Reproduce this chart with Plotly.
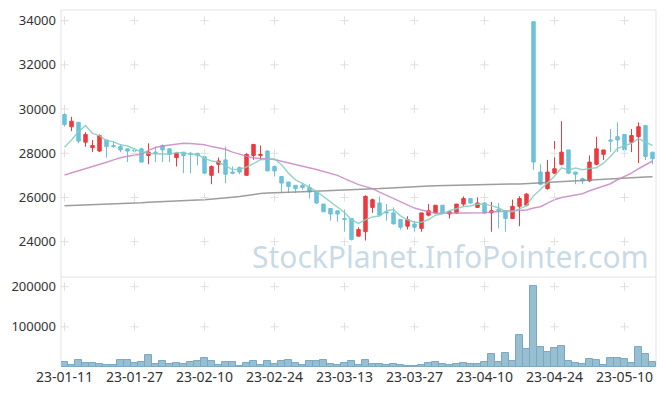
import plotly.graph_objects as go
from plotly.subplots import make_subplots

dates = [
    "23-01-11", "23-01-12", "23-01-13", "23-01-16", "23-01-17", "23-01-18", "23-01-19", "23-01-20",
    "23-01-25", "23-01-26", "23-01-27", "23-01-30", "23-01-31",
    "23-02-01", "23-02-02", "23-02-03", "23-02-06", "23-02-07", "23-02-08", "23-02-09", "23-02-10",
    "23-02-13", "23-02-14", "23-02-15", "23-02-16", "23-02-17", "23-02-20", "23-02-21", "23-02-22",
    "23-02-23", "23-02-24", "23-02-27", "23-02-28",
    "23-03-02", "23-03-03", "23-03-06", "23-03-07", "23-03-08", "23-03-09", "23-03-10", "23-03-13",
    "23-03-14", "23-03-15", "23-03-16", "23-03-17", "23-03-20", "23-03-21", "23-03-22", "23-03-23",
    "23-03-24", "23-03-27", "23-03-28", "23-03-29", "23-03-30", "23-03-31",
    "23-04-03", "23-04-04", "23-04-05", "23-04-06", "23-04-07", "23-04-10", "23-04-11", "23-04-12",
    "23-04-13", "23-04-14", "23-04-17", "23-04-18", "23-04-19", "23-04-20", "23-04-21", "23-04-24",
    "23-04-25", "23-04-26", "23-04-27", "23-04-28",
    "23-05-02", "23-05-03", "23-05-04", "23-05-08", "23-05-09", "23-05-10", "23-05-11", "23-05-12",
    "23-05-15", "23-05-16",
]

open_ = [29750, 29200, 29400, 28500, 28250, 28100, 28600, 28350, 28300, 28200,
         28150, 28200, 27900, 28050, 28350, 28200, 27800, 28050, 28000, 28000,
         27850, 27000, 27500, 27700, 27150, 27350, 27000, 27900, 27900, 28100,
         27400, 26950, 26700, 26550, 26550, 26450, 26250, 25700, 25500, 25400,
         25050, 25050, 24250, 24450, 25550, 25750, 25350, 25300, 25000, 24700,
         24800, 24600, 25200, 25300, 25650, 25250, 25300, 25700, 25950, 25550,
         25750, 25300, 25450, 25400, 25050, 25600, 25650, 33950, 27150, 26400,
         27100, 27500, 28150, 27150, 26850, 26750, 27500, 27950, 28600, 28750,
         28850, 28500, 28750, 29250, 28050]
high = [29900, 29650, 29400, 28950, 28600, 28850, 28600, 28550, 28400, 28200,
        28250, 28250, 28450, 28300, 28400, 28200, 28050, 28050, 28050, 28000,
        27850, 27450, 27800, 28300, 27400, 27400, 28000, 28400, 28350, 28150,
        27450, 26950, 26700, 26550, 26650, 26600, 26250, 25700, 25500, 25400,
        25450, 25050, 24650, 26100, 25950, 26050, 25700, 25550, 25000, 25150,
        24950, 25300, 25700, 25650, 25650, 25400, 25700, 26050, 25950, 26000,
        25800, 25800, 25750, 25400, 25900, 26050, 26200, 33950, 27500, 27700,
        28550, 29450, 28150, 27150, 26900, 27900, 28750, 28150, 29100, 29400,
        28850, 29100, 29400, 29250, 28050]
low = [29200, 29000, 28450, 28300, 28050, 28050, 27800, 28250, 28050, 27600,
       28000, 27600, 27500, 27600, 27600, 27600, 27400, 27100, 27100, 27450,
       27050, 26600, 27100, 26650, 27050, 27050, 27000, 27700, 27700, 27200,
       26950, 26200, 26200, 26200, 26350, 25950, 25700, 25350, 24950, 24900,
       24450, 24050, 24250, 24050, 25300, 25150, 24950, 24800, 24550, 24550,
       24450, 24450, 25150, 25250, 25250, 25050, 25250, 25600, 25700, 25550,
       25250, 24450, 24600, 24450, 25050, 24700, 25600, 27250, 26550, 26350,
       27050, 27450, 27050, 26600, 26600, 26700, 27450, 27700, 28050, 28050,
       28000, 28050, 27550, 27700, 27500]
close = [29300, 29450, 28550, 28850, 28350, 28800, 28300, 28300, 28150, 28100,
         28100, 27600, 28050, 28000, 28150, 27950, 28000, 27900, 27950, 27900,
         27100, 27400, 27650, 27050, 27100, 27150, 27950, 28400, 27950, 27200,
         27200, 26650, 26500, 26400, 26450, 26250, 25750, 25350, 25250, 25250,
         25000, 24100, 24550, 26050, 25900, 25200, 25300, 24800, 24650, 25000,
         24650, 25300, 25400, 25650, 25300, 25350, 25700, 25950, 25750, 25750,
         25300, 25400, 25400, 25050, 25600, 25950, 26150, 27600, 26600, 27150,
         27300, 28050, 27100, 27050, 26750, 27600, 28200, 28150, 28550, 28600,
         28150, 28800, 29200, 27850, 27750]
volume = [12400, 5000, 17400, 9900, 9900, 7400, 5000, 5000, 17400, 17400,
          10800, 12400, 29800, 6600, 14900, 7400, 9900, 7400, 12400, 14900,
          22300, 14900, 5000, 12400, 12400, 2500, 9900, 14900, 5000, 14900,
          7400, 14900, 17400, 9900, 5000, 14900, 14900, 17400, 7400, 5000,
          9900, 14900, 5000, 17400, 7400, 7400, 5000, 7400, 5000, 2500,
          2500, 5000, 9900, 12400, 7400, 5000, 7400, 9900, 7400, 7400,
          12400, 32300, 12400, 34700, 14900, 79400, 44700, 201800, 49600, 37200,
          47100, 52100, 14900, 9900, 7400, 19800, 17400, 5000, 22300, 22300,
          19800, 9900, 49600, 32300, 12400]
ma5 = [28270, 28600, 28980, 29250, 28900, 28800, 28570, 28520, 28380, 28330,
       28190, 28050, 28000, 27970, 27980, 27950, 28030, 28000, 27990, 27940,
       27770, 27650, 27600, 27420, 27260, 27270, 27380, 27530, 27710, 27730,
       27740, 27480, 27100, 26790, 26640, 26450, 26270, 26040, 25810, 25570,
       25320, 24990, 24830, 24990, 25120, 25160, 25400, 25450, 25170, 24990,
       24880, 24880, 25000, 25200, 25260, 25400, 25480, 25590, 25610, 25700,
       25690, 25630, 25520, 25380, 25350, 25480, 25630, 26070, 26380, 26690,
       26960, 27340, 27240, 27330, 27250, 27310, 27340, 27550, 27850, 28220,
       28330, 28450, 28660, 28520, 28350]
ma20 = [27020, 27110, 27200, 27290, 27390, 27490, 27590, 27700, 27800, 27860,
        27920, 27970, 28130, 28260, 28330, 28380, 28420, 28450, 28440, 28420,
        28380, 28300, 28230, 28180, 28050, 27950, 27870, 27790, 27760, 27740,
        27720, 27640, 27570, 27490, 27430, 27350, 27260, 27170, 27090, 27000,
        26850, 26700, 26580, 26490, 26400, 26240, 26100, 25950, 25830, 25680,
        25520, 25430, 25350, 25290, 25280, 25280, 25280, 25280, 25290, 25300,
        25310, 25340, 25360, 25370, 25380, 25400, 25430, 25520, 25580, 25740,
        25900, 26000, 26060, 26120, 26170, 26300, 26400, 26500, 26620, 26800,
        26950, 27100, 27300, 27480, 27650]
ma60 = [25620, 25630, 25640, 25650, 25660, 25670, 25680, 25690, 25700, 25720,
        25740, 25760, 25780, 25800, 25820, 25840, 25860, 25870, 25880, 25890,
        25900, 25920, 25950, 25980, 26010, 26040, 26090, 26140, 26180, 26200,
        26220, 26230, 26240, 26250, 26260, 26270, 26280, 26290, 26300, 26310,
        26320, 26340, 26350, 26370, 26390, 26400, 26420, 26440, 26470, 26490,
        26500, 26510, 26520, 26530, 26540, 26550, 26560, 26570, 26570, 26580,
        26590, 26590, 26600, 26600, 26610, 26610, 26620, 26640, 26660, 26680,
        26700, 26720, 26730, 26740, 26760, 26770, 26790, 26810, 26830, 26850,
        26870, 26890, 26910, 26930, 26940]

price_ticks = [24000, 26000, 28000, 30000, 32000, 34000]
volume_ticks = [100000, 200000]
tick_dates = dates[::10]
watermark = "StockPlanet.InfoPointer.com"

RED = "#ec3a3f"
BLUE = "#6cc2d9"
FONT = "Noto Sans"

fig = make_subplots(rows=2, cols=1, shared_xaxes=True, vertical_spacing=0,
                    row_heights=[0.748, 0.252])

fig.add_trace(go.Candlestick(
    x=dates, open=open_, high=high, low=low, close=close,
    increasing=dict(line=dict(color=RED, width=1), fillcolor=RED),
    decreasing=dict(line=dict(color=BLUE, width=1), fillcolor=BLUE),
    whiskerwidth=0, showlegend=False), row=1, col=1)

for series, color in ((ma60, "rgba(140,140,140,0.85)"),
                      (ma20, "rgba(200,135,195,0.85)"),
                      (ma5, "rgba(135,205,190,0.85)")):
    fig.add_trace(go.Scatter(x=dates, y=series, mode="lines",
                             line=dict(color=color, width=1.5),
                             showlegend=False, hoverinfo="skip"), row=1, col=1)

fig.add_trace(go.Bar(x=dates, y=volume,
                     marker=dict(color="#98bfd1", line=dict(color="#78a9c0", width=1)),
                     showlegend=False), row=2, col=1)

# grid crosses
for row, yt in ((1, price_ticks), (2, volume_ticks)):
    gx = [d for d in tick_dates for _ in yt]
    gy = [v for _ in tick_dates for v in yt]
    fig.add_trace(go.Scatter(x=gx, y=gy, mode="markers", hoverinfo="skip",
                             marker=dict(symbol="cross-thin", size=6,
                                         line=dict(color="#e0e0e0", width=1)),
                             showlegend=False), row=row, col=1)

axis_font = dict(family=FONT, size=13, color="#333333")
fig.update_xaxes(type="category", categoryorder="array", categoryarray=dates,
                 range=[-0.5, len(dates) - 0.5], automargin=False,
                 showgrid=False, zeroline=False, showline=False,
                 tickmode="array", tickvals=tick_dates, ticktext=tick_dates,
                 tickangle=0, ticks="", ticklabelstandoff=0,
                 tickfont=dict(family=FONT, size=14, color="#333333"))
fig.update_xaxes(showticklabels=False, row=1, col=1)
fig.update_xaxes(rangeslider=dict(visible=False), row=1, col=1)
fig.update_yaxes(range=[22400, 34480], tickvals=price_ticks, automargin=False,
                 ticktext=[str(v) for v in price_ticks], showgrid=False,
                 ticklabelstandoff=4,
                 zeroline=False, ticks="", tickfont=axis_font, row=1, col=1)
fig.update_yaxes(range=[0, 224000], tickvals=volume_ticks, automargin=False,
                 ticktext=[str(v) for v in volume_ticks], showgrid=False,
                 ticklabelstandoff=4,
                 zeroline=False, ticks="", tickfont=axis_font, row=2, col=1)

frame = "#e3e3e3"
top_bottom = 0.252
fig.update_layout(
    width=665, height=396,
    margin=dict(l=61, r=9, t=10, b=29, autoexpand=False),
    paper_bgcolor="white", plot_bgcolor="white",
    bargap=0, showlegend=False,
    font=dict(family=FONT),
    shapes=[
        dict(type="rect", xref="paper", yref="paper", x0=0, x1=1, y0=top_bottom, y1=1,
             line=dict(color=frame, width=1), layer="below"),
        dict(type="line", xref="paper", yref="paper", x0=0, x1=0, y0=0, y1=top_bottom,
             line=dict(color=frame, width=1), layer="below"),
        dict(type="line", xref="paper", yref="paper", x0=1, x1=1, y0=0, y1=top_bottom,
             line=dict(color=frame, width=1), layer="below"),
    ],
    annotations=[dict(text=watermark, xref="paper", yref="paper", x=0.655, y=0.31,
                      xanchor="center", yanchor="middle", showarrow=False,
                      font=dict(family=FONT, size=30, color="rgba(190,212,225,0.85)"))],
)

fig.write_html("out.html", config={"displayModeBar": False},
               post_script="document.body.style.margin='0px';")
